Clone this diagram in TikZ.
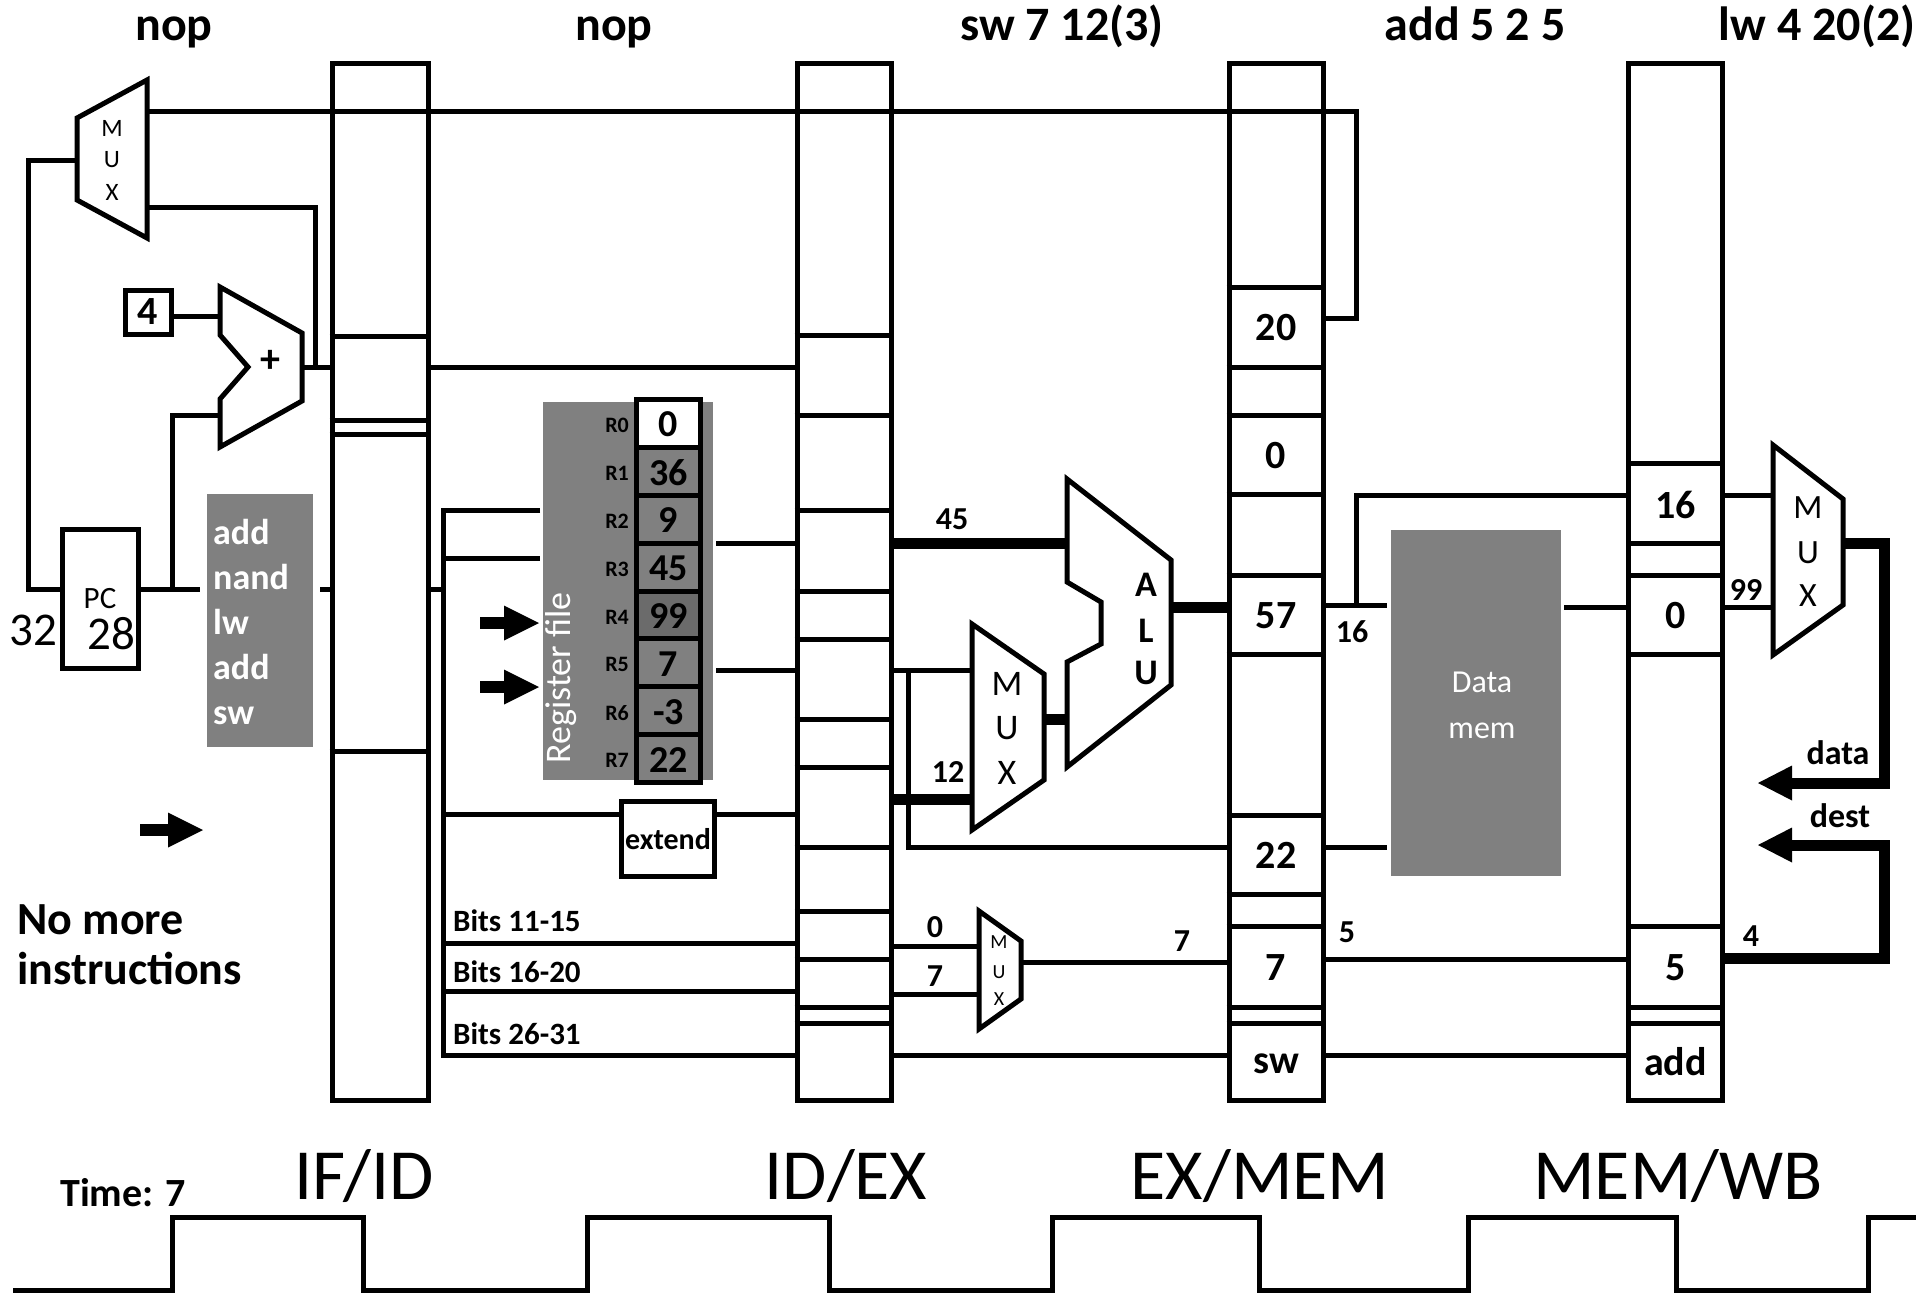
\documentclass[tikz,border=0pt]{standalone}
\usepackage{fontspec}
\setmainfont{Carlito}
\usetikzlibrary{arrows.meta}
\newcommand\myfs[1]{\fontsize{#1}{#1}\selectfont}
\definecolor{memgray}{HTML}{808080}
\definecolor{darkcell}{HTML}{6B6B6B}
\tikzset{
  wire/.style={line width=5pt},
  thickw/.style={line width=11pt},
  reg/.style={draw, fill=white, line width=5pt, minimum width=94pt, minimum height=1037pt, inner sep=0pt},
  shapeb/.style={draw, line width=5pt, fill=white, line join=miter},
  lbl/.style={inner sep=0pt, anchor=base, font=\bfseries\myfs{32}},
  cell/.style={inner sep=0pt, font=\bfseries\myfs{40}},
  title/.style={inner sep=0pt, anchor=base, font=\bfseries\myfs{48}},
  stage/.style={inner sep=0pt, anchor=base, font=\myfs{72}},
  muxletter/.style={inner sep=0pt, font=\myfs{#1}},
  whitetext/.style={inner sep=0pt, text=white},
}
\begin{document}
\begin{tikzpicture}[x=1pt,y=-1pt]
\useasboundingbox (0,0) rectangle (1928,1296);

% ---------- titles ----------
\node[title] (ti1) at (174,40) {nop};
\node[title] (ti2) at (614,40) {nop};
\node[title] (ti3) at (1062,40) {sw 7 12(3)};
\node[title] (ti4) at (1475,40) {add 5 2 5};
\node[title] (ti5) at (1817,40) {lw 4 20(2)};

% ---------- pipeline registers ----------
\node[reg, minimum width=96pt] (ifid) at (380,581.5) {};
\node[reg] (idex) at (844,581.5) {};
\node[reg] (exmem) at (1276,581.5) {};
\node[reg] (memwb) at (1675.5,581.5) {};
\foreach \y in {336,420,434,751}
  \draw[wire] (ifid.west |- 0,\y) -- (ifid.east |- 0,\y);
\foreach \y in {335,415,510,591,639,719,767,847,911,959,1007,1023}
  \draw[wire] (idex.west |- 0,\y) -- (idex.east |- 0,\y);
\foreach \y in {287,367,415,494,575,654,815,894,926,1007,1023}
  \draw[wire] (exmem.west |- 0,\y) -- (exmem.east |- 0,\y);
\foreach \y in {463,543,575,654,926,1007,1023}
  \draw[wire] (memwb.west |- 0,\y) -- (memwb.east |- 0,\y);

\node[cell] (c20) at (1276,328) {20};
\node[cell] (c0) at (1276,456) {0};
\node[cell] (c57) at (1276,616) {57};
\node[cell] (c22) at (1276,855) {22};
\node[cell] (c7) at (1276,968) {7};
\node[cell] (csw) at (1276,1064) {sw};
\node[cell] (w16) at (1675.5,505) {16};
\node[cell] (w0) at (1675.5,616) {0};
\node[cell] (w5) at (1675.5,968) {5};
\node[cell] (wadd) at (1675.5,1062) {add};

% ---------- fetch ----------
\node[draw, line width=5pt, minimum width=76pt, minimum height=139pt, inner sep=0pt] (pc) at (100,598.5) {};
\node[inner sep=0pt, font=\myfs{31}] (pct) at (100,599) {PC};
\node[inner sep=0pt, font=\myfs{47}] (pcv) at (111,634) {28};
\node[inner sep=0pt, font=\myfs{47}] (pcw) at (33,630) {32};

\node[draw, line width=5pt, minimum width=46pt, minimum height=44pt, inner sep=0pt] (four) at (148,312) {};
\node[inner sep=0pt, font=\bfseries\myfs{40}] (fourt) at (148,312) {4};

% mux 1
\draw[shapeb] (77,118) -- (147,80) -- (147,238) -- (77,200) -- cycle;
\node[muxletter=25] (m1a) at (112,128) {M};
\node[muxletter=25] (m1b) at (112,160) {U};
\node[muxletter=25] (m1c) at (112,192) {X};

% adder
\draw[shapeb] (220,287) -- (302,333) -- (302,401) -- (220,447) -- (220,399) -- (248,367) -- (220,335) -- cycle;
\node[inner sep=0pt, font=\bfseries\myfs{40}] (plus) at (270,361) {+};

% instruction memory
\node[fill=memgray, minimum width=106pt, minimum height=253pt, inner sep=0pt] (imem) at (260,620.5) {};
\foreach \t/\yy [count=\k] in {add/544,nand/589,lw/634,add/679,sw/724}
  \node[whitetext, anchor=base west, font=\bfseries\myfs{36}] (im\k) at (213,\yy) {\t};

% fetch wires
\coordinate (m1out) at (77,160);
\coordinate (m1in1) at (147,111);
\coordinate (m1in2) at (147,207);
\coordinate (addout) at (302,367);
\draw[wire] (m1out) -- (28,160) -- (28,589) -- (pc.west |- 0,589);
\draw[wire] (pc.east |- 0,589) -- (200,589);
\draw[wire] (172,589) -- (172,415) -- (220,415);
\draw[wire] (four.east |- 0,316) -- (220,316);
\draw[wire] (320,589) -- (ifid.west |- 0,589);
\draw[wire] (addout) -- (ifid.west |- addout);
\draw[wire] (ifid.east |- addout) -- (idex.west |- addout);
\draw[wire] (m1in2) -- (315,207) -- (315,367);

% no more instructions arrow
\draw[line width=12pt] (140,830) -- (170,830);
\fill (203,830) -- (168,812.5) -- (168,847.5) -- cycle;
\node[inner sep=0pt, anchor=base west, font=\bfseries\myfs{46}] (nm1) at (17,934) {No more};
\node[inner sep=0pt, anchor=base west, font=\bfseries\myfs{46}] (nm2) at (17,984) {instructions};

% ---------- decode ----------
\node[fill=memgray, minimum width=170pt, minimum height=378pt, inner sep=0pt] (rf) at (628,591) {};
\node[whitetext, rotate=90, font=\myfs{36}] (rft) at (561,678) {Register file};
\foreach \i/\v/\c in {0/0/white,1/36/memgray,2/9/memgray,3/45/memgray,4/99/darkcell,5/7/memgray,6/-3/memgray,7/22/memgray}{
  \pgfmathsetmacro\ya{399.5+47.875*\i}
  \pgfmathsetmacro\yb{\ya+47.875}
  \pgfmathsetmacro\ym{\ya+24}
  \draw[wire, fill=\c] (636.5,\ya) rectangle (700.5,\yb);
  \node[inner sep=0pt, font=\bfseries\myfs{38}] (v\i) at (668.5,\ym+1) {\v};
  \node[anchor=east, inner sep=0pt, font=\bfseries\myfs{22}] (r\i) at (629,\ym+2) {R\i};
}
% write arrows
\foreach \yy [count=\k] in {623,687}{
  \draw[line width=12pt] (480,\yy) -- (506,\yy);
  \fill (539,\yy) -- (504,\yy-17.5) -- (504,\yy+17.5) -- cycle;
}

\node[draw, fill=white, line width=5pt, minimum width=93pt, minimum height=75pt, inner sep=0pt] (ext) at (668,839) {};
\node[inner sep=0pt, anchor=base, font=\bfseries\myfs{30}] (extt) at (668,849) {extend};

% bus
\draw[wire] (ifid.east |- 0,589) -- (443,589);
\draw[wire] (540,510) -- (443,510) -- (443,1055) -- (idex.west |- 0,1055);
\draw[wire] (443,558) -- (540,558);
\draw[wire] (443,814) -- (ext.west |- 0,814);
\draw[wire] (ext.east |- 0,814) -- (idex.west |- 0,814);
\draw[wire] (443,943) -- (idex.west |- 0,943);
\draw[wire] (443,991) -- (idex.west |- 0,991);
\draw[wire] (716,543) -- (idex.west |- 0,543);
\draw[wire] (716,670) -- (idex.west |- 0,670);
\node[inner sep=0pt, anchor=base west, font=\bfseries\myfs{31}] (b1) at (453,931) {Bits 11-15};
\node[inner sep=0pt, anchor=base west, font=\bfseries\myfs{31}] (b2) at (453,982) {Bits 16-20};
\node[inner sep=0pt, anchor=base west, font=\bfseries\myfs{31}] (b3) at (453,1044) {Bits 26-31};

% ---------- execute ----------
\draw[shapeb] (1067,479) -- (1171,560) -- (1171,685) -- (1067,767) -- (1067,662) -- (1101,644) -- (1101,602) -- (1067,582) -- cycle;
\node[inner sep=0pt, font=\bfseries\myfs{36}] (alua) at (1146,585) {A};
\node[inner sep=0pt, font=\bfseries\myfs{36}] (alul) at (1146,631) {L};
\node[inner sep=0pt, font=\bfseries\myfs{36}] (aluu) at (1146,673) {U};

\draw[shapeb] (972,624) -- (1044,674) -- (1044,780) -- (972,830) -- cycle;
\node[muxletter=36] (m2a) at (1007,684) {M};
\node[muxletter=36] (m2b) at (1007,728) {U};
\node[muxletter=36] (m2c) at (1007,773) {X};

\draw[shapeb] (979,911) -- (1021,941) -- (1021,999) -- (979,1029) -- cycle;
\node[muxletter=20] (m3a) at (999,942) {M};
\node[muxletter=20] (m3b) at (999,972) {U};
\node[muxletter=20] (m3c) at (999,999) {X};

\draw[thickw] (idex.east |- 0,543) -- (1067,543);
\node[lbl] (l45) at (952,529) {45};
\draw[wire] (idex.east |- 0,670) -- (972,670);
\draw[wire] (908,670) -- (908,847) -- (exmem.west |- 0,847);
\draw[thickw] (idex.east |- 0,799) -- (972,799);
\node[lbl] (l12) at (948,782) {12};
\draw[thickw] (1044,719) -- (1067,719);
\draw[thickw] (1171,607) -- (exmem.west |- 0,607);
\draw[wire] (idex.east |- 0,946) -- (979,946);
\draw[wire] (idex.east |- 0,994) -- (979,994);
\node[lbl] (l0) at (935,937) {0};
\node[lbl] (l7a) at (935,986) {7};
\draw[wire] (1021,962) -- (exmem.west |- 0,962);
\node[lbl] (l7b) at (1182,951) {7};
\draw[wire] (idex.east |- 0,1055) -- (exmem.west |- 0,1055);

% ---------- memory ----------
\node[fill=memgray, minimum width=170pt, minimum height=346pt, inner sep=0pt] (dmem) at (1476,703) {};
\node[whitetext, anchor=base, font=\myfs{32}] (dm1) at (1482,692) {Data};
\node[whitetext, anchor=base, font=\myfs{32}] (dm2) at (1482,738) {mem};
\draw[wire] (exmem.east |- 0,605) -- (1387,605);
\draw[wire] (1356,605) -- (1356,495) -- (memwb.west |- 0,495);
\node[lbl] (l16) at (1352,642) {16};
\draw[wire] (exmem.east |- 0,847) -- (1387,847);
\draw[wire] (exmem.east |- 0,959) -- (memwb.west |- 0,959);
\node[lbl] (l5) at (1347,942) {5};
\draw[wire] (exmem.east |- 0,1055) -- (memwb.west |- 0,1055);
\draw[wire] (1564,607) -- (memwb.west |- 0,607);

% branch loop back to fetch mux
\draw[wire] (exmem.east |- 0,318) -- (1356,318) -- (1356,111) -- (m1in1);

% ---------- write back ----------
\draw[shapeb] (1773,445) -- (1843,499) -- (1843,605) -- (1773,655) -- cycle;
\node[muxletter=34] (m4a) at (1808,508) {M};
\node[muxletter=34] (m4b) at (1808,553) {U};
\node[muxletter=34] (m4c) at (1808,596) {X};
\draw[wire] (memwb.east |- 0,495) -- (1773,495);
\draw[wire] (memwb.east |- 0,607) -- (1773,607);
\node[lbl] (l99) at (1746,600) {99};
\draw[thickw] (1843,543) -- (1884,543) -- (1884,783) -- (1790,783);
\fill (1758,783) -- (1792,765.5) -- (1792,800.5) -- cycle;
\node[inner sep=0pt, anchor=base, font=\bfseries\myfs{34}] (ldata) at (1838,764) {data};
\draw[thickw] (memwb.east |- 0,958) -- (1884,958) -- (1884,845) -- (1790,845);
\fill (1758,845) -- (1792,827.5) -- (1792,862.5) -- cycle;
\node[inner sep=0pt, anchor=base, font=\bfseries\myfs{34}] (ldest) at (1840,827) {dest};
\node[lbl] (l4) at (1751,946) {4};

% ---------- clock & stage labels ----------
\node[inner sep=0pt, anchor=base west, font=\bfseries\myfs{40}] (time) at (60,1206) {Time: 7};
\node[stage] (s1) at (364,1199) {IF/ID};
\node[stage] (s2) at (846,1199) {ID/EX};
\node[stage] (s3) at (1260,1199) {EX/MEM};
\node[stage] (s4) at (1678,1199) {MEM/WB};
\draw[wire] (13,1290) -- (172,1290) -- (172,1217) -- (363,1217) -- (363,1290) -- (587,1290) -- (587,1217) -- (829,1217) -- (829,1290) -- (1052,1290) -- (1052,1217) -- (1259,1217) -- (1259,1290) -- (1468,1290) -- (1468,1217) -- (1676,1217) -- (1676,1290) -- (1868,1290) -- (1868,1217) -- (1916,1217);
\end{tikzpicture}
\end{document}
